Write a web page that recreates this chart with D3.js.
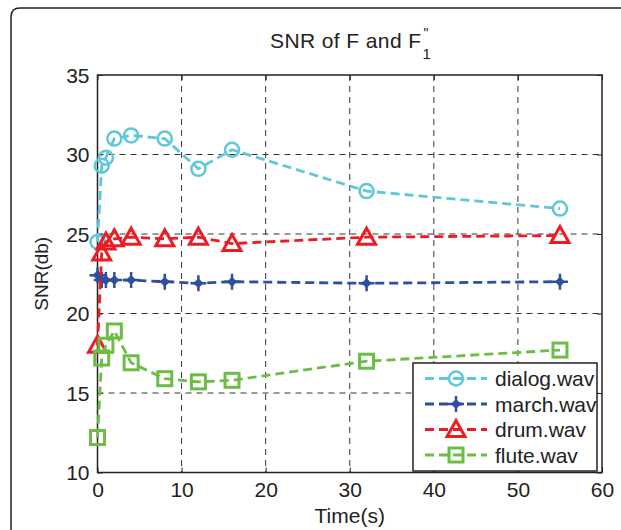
<!DOCTYPE html>
<html>
<head>
<meta charset="utf-8">
<script src="https://cdn.jsdelivr.net/npm/d3@7"></script>
<style>
  body { margin: 0; background: #fff; }
  svg { display: block; font-family: "Liberation Sans", Arial, sans-serif; }
</style>
</head>
<body>
<div id="canvas"></div>
<script>
// values
var times = [0, 0.5, 1, 2, 4, 8, 12, 16, 32, 55];
var dialog = [24.5, 29.3, 29.8, 31.0, 31.2, 31.0, 29.1, 30.3, 27.7, 26.6];
var march  = [22.4, 22.1, 22.1, 22.1, 22.1, 22.0, 21.9, 22.0, 21.9, 22.0];
var drum   = [18.0, 23.8, 24.5, 24.7, 24.8, 24.7, 24.8, 24.4, 24.8, 24.9];
var flute  = [12.2, 17.2, 18.0, 18.9, 16.9, 15.9, 15.7, 15.8, 17.0, 17.7];
var seriesNames = ['dialog.wav', 'march.wav', 'drum.wav', 'flute.wav'];
var seriesColors = ['#5ec7d9', '#2f4f9e', '#ec1c24', '#6cbd45'];
var seriesMarkers = ['circle', 'star', 'triangle', 'square'];
var xTicks = [0, 10, 20, 30, 40, 50, 60];
var yTicks = [10, 15, 20, 25, 30, 35];

var allValues = [dialog, march, drum, flute];

var outerWidth = 621, outerHeight = 530;
var margin = { left: 97.5, top: 75, right: 19, bottom: 57.5 };
var innerWidth = outerWidth - margin.left - margin.right;
var innerHeight = outerHeight - margin.top - margin.bottom;

var x = d3.scaleLinear().domain([0, 60]).range([0, innerWidth]);
var y = d3.scaleLinear().domain([10, 35]).range([innerHeight, 0]);

var svg = d3.select('#canvas').append('svg')
  .attr('width', outerWidth)
  .attr('height', outerHeight);

// outer frame with rounded corner, running off the page
svg.append('path')
  .attr('d', 'M11,' + outerHeight + 'V17Q11,8 20,8H' + outerWidth)
  .attr('fill', 'none')
  .attr('stroke', '#222')
  .attr('stroke-width', 1.5);

var g = svg.append('g')
  .attr('transform', 'translate(' + margin.left + ',' + margin.top + ')');

// grid
g.append('g').attr('class', 'xGrid')
  .selectAll('line').data(xTicks.slice(1, -1)).enter().append('line')
  .attr('x1', d => x(d)).attr('x2', d => x(d))
  .attr('y1', 0).attr('y2', innerHeight);
g.append('g').attr('class', 'yGrid')
  .selectAll('line').data(yTicks.slice(1, -1)).enter().append('line')
  .attr('y1', d => y(d)).attr('y2', d => y(d))
  .attr('x1', 0).attr('x2', innerWidth);
g.selectAll('.xGrid line, .yGrid line')
  .attr('stroke', '#333').attr('stroke-width', 1).attr('stroke-dasharray', '6,5');

// axes: bottom/left with labels, top/right ticks only
function styleAxis(sel) {
  sel.attr('font-family', null).attr('font-size', null);
  sel.select('.domain').remove();
  sel.selectAll('line').attr('stroke', '#222').attr('stroke-width', 1);
  sel.selectAll('text').attr('fill', '#222').attr('dy', null).style('font-size', '21px');
}
function noLabels(sel) {
  sel.selectAll('text').remove();
}
g.append('g')
  .attr('transform', 'translate(0,' + innerHeight + ')')
  .call(d3.axisBottom(x).tickValues(xTicks).tickSize(-5).tickPadding(9))
  .call(styleAxis)
  .selectAll('text').attr('y', 24);
g.append('g')
  .call(d3.axisTop(x).tickValues(xTicks).tickSize(-5))
  .call(styleAxis).call(noLabels);
g.append('g')
  .call(d3.axisLeft(y).tickValues(yTicks).tickSize(-5).tickPadding(8))
  .call(styleAxis)
  .selectAll('text').attr('y', 7);
g.append('g')
  .attr('transform', 'translate(' + innerWidth + ',0)')
  .call(d3.axisRight(y).tickValues(yTicks).tickSize(-5))
  .call(styleAxis).call(noLabels);

g.append('rect')
  .attr('width', innerWidth).attr('height', innerHeight)
  .attr('fill', 'none').attr('stroke', '#222').attr('stroke-width', 1.5);

// marker drawing
function drawMarker(sel, type, color) {
  if (type === 'circle') {
    sel.append('circle').attr('r', 7)
      .attr('fill', 'none').attr('stroke', color).attr('stroke-width', 2.5);
  } else if (type === 'triangle') {
    sel.append('path').attr('d', 'M0,-9L9,7L-9,7Z')
      .attr('fill', 'none').attr('stroke', color).attr('stroke-width', 3)
      .attr('stroke-linejoin', 'miter');
  } else if (type === 'square') {
    sel.append('rect').attr('x', -7).attr('y', -7).attr('width', 14).attr('height', 14)
      .attr('fill', 'none').attr('stroke', color).attr('stroke-width', 3);
  } else {
    sel.append('path').attr('d', 'M0,-5L5,0L0,5L-5,0Z').attr('fill', color);
    sel.append('path').attr('d', 'M-8,0H8M0,-8V8')
      .attr('stroke', color).attr('stroke-width', 2.5);
  }
}

var line = d3.line()
  .x(d => x(d.t))
  .y(d => y(d.v));

var nestedData = seriesNames.map(function (name, i) {
  return {
    name: name,
    color: seriesColors[i],
    marker: seriesMarkers[i],
    values: times.map((t, k) => ({ t: t, v: allValues[i][k] }))
  };
});

g.selectAll('g.series')
  .data(nestedData)
  .enter()
  .append('g')
  .attr('class', 'series')
  .each(function (d) {
    var s = d3.select(this);
    s.append('path')
      .attr('d', line(d.values))
      .attr('fill', 'none')
      .attr('stroke', d.color)
      .attr('stroke-width', 2.8)
      .attr('stroke-dasharray', '9,5');
    s.selectAll('g.mk')
      .data(d.values)
      .enter()
      .append('g')
      .attr('class', 'mk')
      .attr('transform', p => 'translate(' + x(p.t) + ',' + y(p.v) + ')')
      .each(function () { drawMarker(d3.select(this), d.marker, d.color); });
  });

// legend
var legend = svg.append('g').attr('transform', 'translate(413,363)');
legend.append('rect')
  .attr('width', 184).attr('height', 108)
  .attr('fill', '#fff').attr('stroke', '#222').attr('stroke-width', 1.5);
var entries = legend.selectAll('g.entry')
  .data(nestedData)
  .enter()
  .append('g')
  .attr('class', 'entry')
  .attr('transform', (d, i) => 'translate(0,' + (15.5 + i * 25.5) + ')');
entries.append('line')
  .attr('x1', 12).attr('x2', 74)
  .attr('stroke', d => d.color)
  .attr('stroke-width', 2.8)
  .attr('stroke-dasharray', '9,5');
entries.append('g')
  .attr('transform', 'translate(43,0)')
  .each(function (d) { drawMarker(d3.select(this), d.marker, d.color); });
entries.append('text')
  .attr('x', 82)
  .attr('y', 7.5)
  .attr('fill', '#222')
  .style('font-size', '21px')
  .text(d => d.name);

// axis titles
svg.append('text')
  .attr('x', margin.left + innerWidth / 2)
  .attr('y', 523)
  .attr('text-anchor', 'middle')
  .attr('fill', '#222')
  .style('font-size', '21px')
  .text('Time(s)');
svg.append('text')
  .attr('transform', 'translate(48,' + (margin.top + innerHeight / 2) + ') rotate(-90)')
  .attr('text-anchor', 'middle')
  .attr('fill', '#222')
  .style('font-size', '19px')
  .text('SNR(db)');

// title with prime and subscript
var title = svg.append('g');
var mainTitle = title.append('text')
  .attr('y', 48)
  .attr('fill', '#222')
  .style('font-size', '21px')
  .style('letter-spacing', '0.4px')
  .text('SNR of F and F');
var w = mainTitle.node().getComputedTextLength();
var tx = margin.left + innerWidth / 2 - (w + 8) / 2;
mainTitle.attr('x', tx);
title.append('text')
  .attr('x', tx + w + 2).attr('y', 38)
  .attr('fill', '#222')
  .style('font-size', '14px')
  .text('"');
title.append('text')
  .attr('x', tx + w + 1).attr('y', 59)
  .attr('fill', '#222')
  .style('font-size', '15px')
  .text('1');
</script>
</body>
</html>
